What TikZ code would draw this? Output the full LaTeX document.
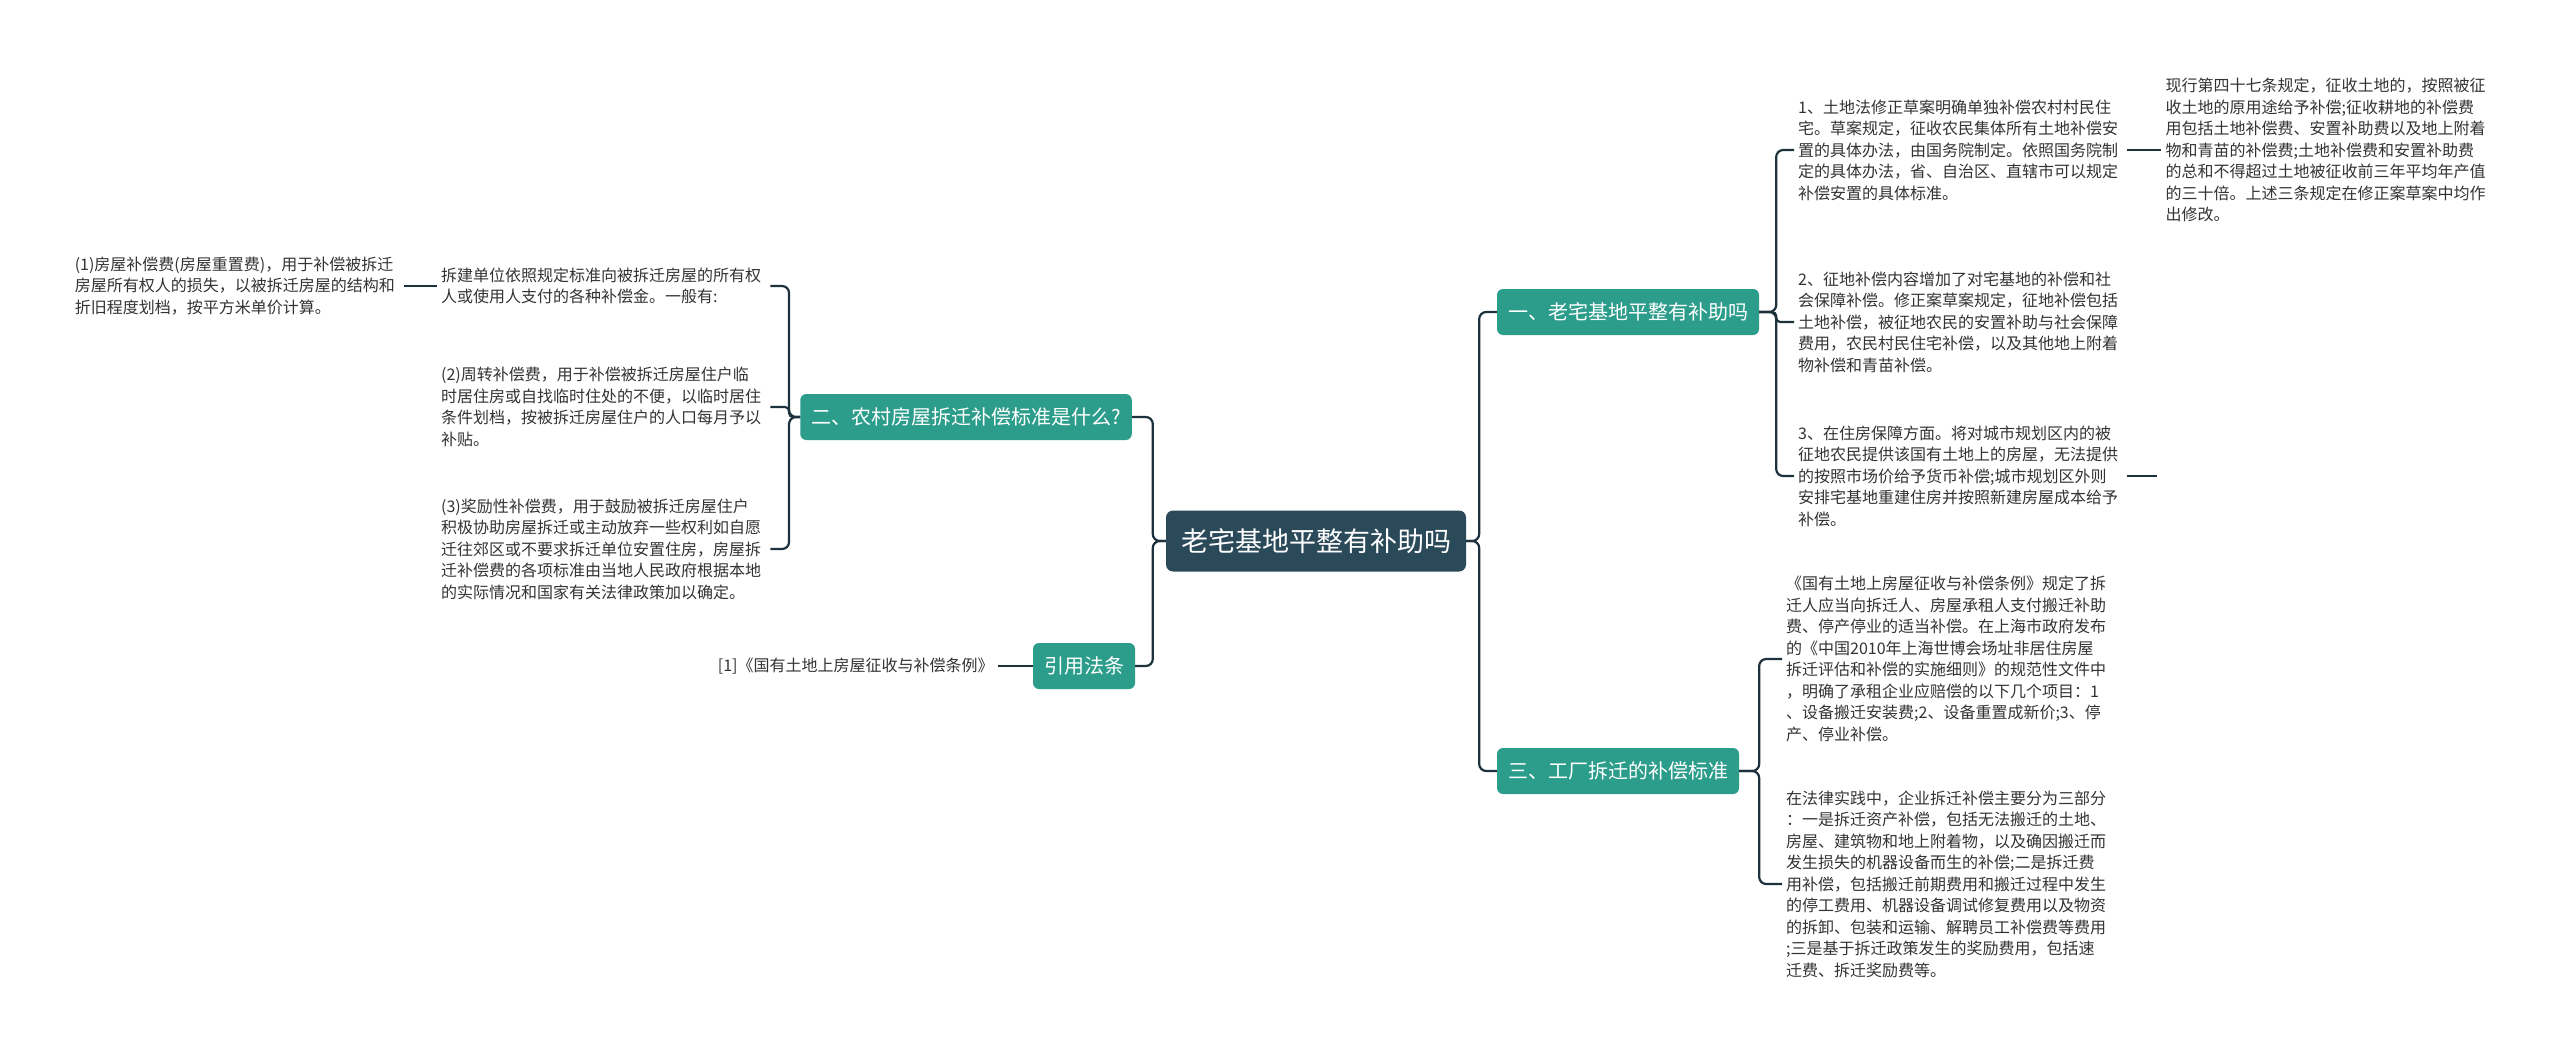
\documentclass[tikz,border=0pt]{standalone}
\usepackage{fontspec}
\setmainfont{Noto Sans CJK SC}
\usetikzlibrary{positioning}
\definecolor{teal1}{RGB}{44,157,138}
\definecolor{slate}{RGB}{42,73,89}
\definecolor{linec}{RGB}{29,50,60}
\definecolor{txtc}{RGB}{51,51,51}

\begin{document}
\begin{tikzpicture}[x=1pt,y=-1pt,
  rootbox/.style={fill=slate,text=white,rounded corners=7pt,inner xsep=15pt,
                  minimum height=61pt,font=\fontsize{27}{32}\selectfont},
  topic/.style={fill=teal1,text=white,rounded corners=6pt,inner xsep=11pt,
                minimum height=46pt,font=\fontsize{20}{24}\selectfont},
  note/.style={text=txtc,inner xsep=4pt,inner ysep=0pt,font=\fontsize{16}{21.5}\selectfont},
  para/.style={note,align=left,text width=325pt},
  link/.style={draw=linec,line width=2.2pt,rounded corners=7pt}]
  \fill[white] (0,0) rectangle (2560,1051);
  \useasboundingbox (0,0) rectangle (2560,1051);
  \node[rootbox] (root) at (1316,541) {老宅基地平整有补助吗};
  %  -- - left: 二 -- -
  \node[topic] (l0) at (966,417) {二、农村房屋拆迁补偿标准是什么?};
  \node[para,anchor=west] (l1) at (437,286) {拆建单位依照规定标准向被拆迁房屋的所有权\\人或使用人支付的各种补偿金。一般有:};
  \node[para,left=33pt of l1] (l1a) {(1)房屋补偿费(房屋重置费)，用于补偿被拆迁\\房屋所有权人的损失，以被拆迁房屋的结构和\\折旧程度划档，按平方米单价计算。};
  \node[para,anchor=west] (l2) at (437,407) {(2)周转补偿费，用于补偿被拆迁房屋住户临\\时居住房或自找临时住处的不便，以临时居住\\条件划档，按被拆迁房屋住户的人口每月予以\\补贴。};
  \node[para,anchor=west] (l3) at (437,549) {(3)奖励性补偿费，用于鼓励被拆迁房屋住户\\积极协助房屋拆迁或主动放弃一些权利如自愿\\迁往郊区或不要求拆迁单位安置住房，房屋拆\\迁补偿费的各项标准由当地人民政府根据本地\\的实际情况和国家有关法律政策加以确定。};
  \draw[link] (root.west) -- ++(-13,0) |- (l0.east);
  \draw[link] (l0.west) -- ++(-11,0) |- (l1.east);
  \draw[link,rounded corners=4pt] (l0.west) -- ++(-11,0) |- (l2.east);
  \draw[link] (l0.west) -- ++(-11,0) |- (l3.east);
  \draw[link] (l1a.east) -- (l1.west);
  %  -- - left: 引用法条 -- -
  \node[topic] (l4) at (1084,666) {引用法条};
  \node[note,left=35pt of l4] (l4a) {[1]《国有土地上房屋征收与补偿条例》};
  \draw[link] (root.west) -- ++(-13,0) |- (l4.east);
  \draw[link] (l4a.east) -- (l4.west);
  %  -- - right: 一 -- -
  \node[topic] (r1) at (1628,312) {一、老宅基地平整有补助吗};
  \node[para,anchor=west] (c1) at (1794,150) {1、土地法修正草案明确单独补偿农村村民住\\宅。草案规定，征收农民集体所有土地补偿安\\置的具体办法，由国务院制定。依照国务院制\\定的具体办法，省、自治区、直辖市可以规定\\补偿安置的具体标准。};
  \node[para,right=34pt of c1] (c1a) {现行第四十七条规定，征收土地的，按照被征\\收土地的原用途给予补偿;征收耕地的补偿费\\用包括土地补偿费、安置补助费以及地上附着\\物和青苗的补偿费;土地补偿费和安置补助费\\的总和不得超过土地被征收前三年平均年产值\\的三十倍。上述三条规定在修正案草案中均作\\出修改。};
  \node[para,anchor=west] (c2) at (1794,322) {2、征地补偿内容增加了对宅基地的补偿和社\\会保障补偿。修正案草案规定，征地补偿包括\\土地补偿，被征地农民的安置补助与社会保障\\费用，农民村民住宅补偿，以及其他地上附着\\物补偿和青苗补偿。};
  \node[para,anchor=west] (c3) at (1794,476) {3、在住房保障方面。将对城市规划区内的被\\征地农民提供该国有土地上的房屋，无法提供\\的按照市场价给予货币补偿;城市规划区外则\\安排宅基地重建住房并按照新建房屋成本给予\\补偿。};
  \coordinate (c3e) at ([xshift=30pt]c3.east);
  \draw[link] (root.east) -- ++(13,0) |- (r1.west);
  \draw[link] (r1.east) -- ++(17,0) |- (c1.west);
  \draw[link,rounded corners=4pt] (r1.east) -- ++(17,0) |- (c2.west);
  \draw[link] (r1.east) -- ++(17,0) |- (c3.west);
  \draw[link] (c1.east) -- (c1a.west);
  \draw[link] (c3.east) -- (c3e);
  %  -- - right: 三 -- -
  \node[topic] (r2) at (1618,771) {三、工厂拆迁的补偿标准};
  \node[para,anchor=west] (d1) at (1782,659) {《国有土地上房屋征收与补偿条例》规定了拆\\迁人应当向拆迁人、房屋承租人支付搬迁补助\\费、停产停业的适当补偿。在上海市政府发布\\的《中国2010年上海世博会场址非居住房屋\\拆迁评估和补偿的实施细则》的规范性文件中\\，明确了承租企业应赔偿的以下几个项目：1\\、设备搬迁安装费;2、设备重置成新价;3、停\\产、停业补偿。};
  \node[para,anchor=west] (d2) at (1782,884) {在法律实践中，企业拆迁补偿主要分为三部分\\：一是拆迁资产补偿，包括无法搬迁的土地、\\房屋、建筑物和地上附着物，以及确因搬迁而\\发生损失的机器设备而生的补偿;二是拆迁费\\用补偿，包括搬迁前期费用和搬迁过程中发生\\的停工费用、机器设备调试修复费用以及物资\\的拆卸、包装和运输、解聘员工补偿费等费用\\;三是基于拆迁政策发生的奖励费用，包括速\\迁费、拆迁奖励费等。};
  \draw[link] (root.east) -- ++(13,0) |- (r2.west);
  \draw[link] (r2.east) -- ++(20,0) |- (d1.west);
  \draw[link] (r2.east) -- ++(20,0) |- (d2.west);
\end{tikzpicture}
\end{document}
